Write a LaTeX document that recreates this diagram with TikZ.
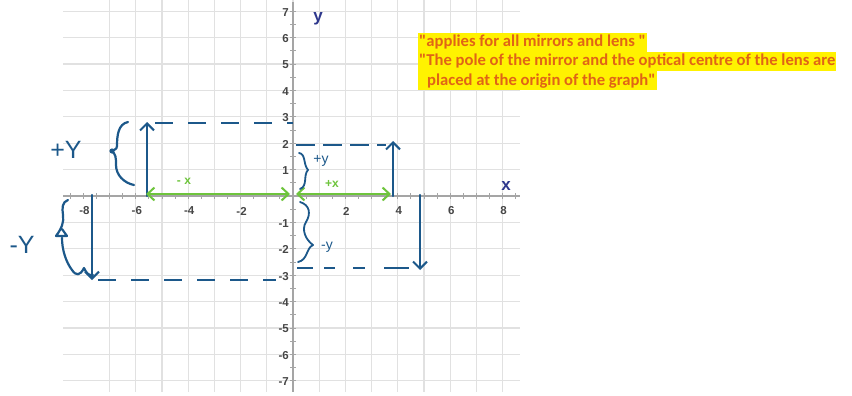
\documentclass[tikz,border=0pt]{standalone}
\usepackage{fontspec}
\usetikzlibrary{arrows.meta}
\newfontfamily\calib{Carlito}
\newfontfamily\lsans{Liberation Sans}
\definecolor{gridc}{RGB}{225,225,225}
\definecolor{axisc}{RGB}{165,165,165}
\definecolor{tickc}{RGB}{70,70,70}
\definecolor{hblue}{RGB}{28,88,138}
\definecolor{hgreen}{RGB}{110,196,60}
\definecolor{axlab}{RGB}{45,55,140}
\definecolor{note}{RGB}{224,100,22}
\tikzset{
  gridline/.style={draw=gridc,line width=1.3pt},
  axisline/.style={draw=axisc,line width=1.4pt},
  minortick/.style={draw=axisc,line width=0.9pt},
  ticklab/.style={font=\lsans\bfseries\fontsize{11.5}{11.5}\selectfont,text=tickc,inner sep=0pt},
  axislab/.style={font=\lsans\bfseries\fontsize{17}{17}\selectfont,text=axlab,inner sep=0pt},
  hand/.style={draw=hblue,line width=2.2pt,line cap=round,line join=round},
  handarrow/.style={hand,-{Straight Barb[length=7pt,width=14pt,line width=2pt]}},
  handdash/.style={draw=hblue,line width=2.8pt,dash pattern=on 18pt off 15pt},
  grarrow/.style={draw=hgreen,line width=2pt,{Straight Barb[length=7pt,width=13pt,line width=2pt]}-{Straight Barb[length=7pt,width=13pt,line width=2pt]}},
  grlab/.style={font=\lsans\bfseries\fontsize{12}{12}\selectfont,text=hgreen,inner sep=0pt},
  handlab/.style={font=\lsans\fontsize{25}{25}\selectfont,text=hblue,inner sep=0pt},
  handsmall/.style={font=\lsans\fontsize{14}{14}\selectfont,text=hblue,inner sep=0pt},
  notebox/.style={fill=yellow,anchor=west,inner xsep=1pt,inner ysep=1.5pt,text height=12pt,text depth=4pt,
    font=\calib\bfseries\fontsize{16.6}{19}\selectfont,text=note}
}
\begin{document}
\begin{tikzpicture}[x=1pt,y=-1pt]
\useasboundingbox (0,0) rectangle (852,396);
% grid
\foreach \i in {-7,...,8} \draw[gridline] ({293+26.2*\i},0) -- ({293+26.2*\i},392);
\foreach \j in {-7,...,7} \draw[gridline] (63,{196-26.4*\j}) -- (520,{196-26.4*\j});
% axes
\draw[axisline] (63,196) -- (520,196);
\draw[axisline] (293,2) -- (293,392);
\foreach \i in {-17,...,17} \draw[minortick] ({293+13.1*\i},193) -- ({293+13.1*\i},199);
\foreach \j in {-14,...,14} \draw[minortick] (290,{196-13.2*\j}) -- (296,{196-13.2*\j});
% tick labels
\foreach \i in {-8,-6,-4,-2,2,4,6,8} \node[ticklab] (tx\i) at ({294+26.2*\i},211) {\ifnum\i<0 -\the\numexpr-\i\relax\else\i\fi};
\foreach \j in {-7,...,-1,1,2,...,7} \node[ticklab,anchor=east] (ty\j) at (289,{197-26.4*\j}) {\ifnum\j<0 -\the\numexpr-\j\relax\else\j\fi};
\node[axislab] (ylab) at (318,19) {y};
\node[axislab] (xlab) at (506,186) {x};
% note
\node[notebox] (n1) at (418,43) {"applies for all mirrors and lens "};
\node[notebox] (n2) at (418,62) {"The pole of the mirror and the optical centre of the lens are};
\node[notebox] (n3) at (418,81) {\hspace{8pt}placed at the origin of the graph"};
% left: object above axis
\coordinate (a1s) at (147,196);
\coordinate (a1e) at (147,122);
\draw[handarrow] (a1s) -- (a1e);
\coordinate (d1s) at (155,123);
\coordinate (d1e) at (293,123);
\draw[handdash] (d1s) -- (d1e);
\coordinate (g1s) at (146,194);
\coordinate (g1e) at (290,194);
\draw[grarrow] (g1s) -- (g1e);
\node[grlab] (mx) at (184,181) {- x};
% +Y brace
\coordinate (b1t) at (128,122);
\coordinate (b1b) at (134,185);
\draw[hand] (b1t) .. controls (118,124) and (117,136) .. (117,146)
  .. controls (117,150) and (113,150) .. (111,151)
  .. controls (116,153) and (116,158) .. (116,165)
  .. controls (116,175) and (124,183) .. (b1b);
\fill[hblue] (112,151) circle (2.6pt);
\node[handlab] (py) at (66,150) {+Y};
% left: object below axis
\coordinate (a3s) at (92,195);
\coordinate (a3e) at (92,280);
\draw[handarrow] (a3s) -- (a3e);
\coordinate (d2s) at (98,280);
\coordinate (d2e) at (276,280);
\draw[handdash] (d2s) -- (d2e);
% -Y brace
\coordinate (b2t) at (68,200);
\coordinate (b2b) at (93,275);
\draw[hand] (b2t) .. controls (62,202) and (62,208) .. (63,215)
  .. controls (64,222) and (62,228) .. (56,236) -- (67,236) -- (62,229)
  (62,238) .. controls (62,250) and (66,262) .. (72,270)
  .. controls (76,276) and (80,276) .. (84,268)
  .. controls (86,272) and (88,276) .. (b2b);
\node[handlab] (my) at (22,245) {-Y};
% right: object above axis
\coordinate (a4s) at (393,196);
\coordinate (a4e) at (393,141);
\draw[handarrow] (a4s) -- (a4e);
\coordinate (d3s) at (296,145);
\coordinate (d3e) at (386,145);
\draw[handdash,dash pattern=on 19pt off 8pt] (d3s) -- (d3e);
\coordinate (g2s) at (296,194);
\coordinate (g2e) at (391,194);
\draw[grarrow] (g2s) -- (g2e);
\node[grlab] (px) at (332,184) {+x};
% +y small brace
\coordinate (b3t) at (299,153);
\coordinate (b3b) at (300,189);
\draw[hand,line width=1.8pt] (b3t) .. controls (306,154) and (303,164) .. (308,170)
  .. controls (303,175) and (308,186) .. (b3b);
\node[handsmall] (psy) at (321,161) {+y};
% right: object below axis
\coordinate (a6s) at (420,195);
\coordinate (a6e) at (420,270);
\draw[handarrow] (a6s) -- (a6e);
\coordinate (d4s) at (297,268);
\coordinate (d4e) at (409,268);
\draw[handdash,dash pattern=on 16pt off 11pt on 11pt off 18pt on 12pt off 19pt on 26pt off 30pt] (d4s) -- (d4e);
% -y small brace
\coordinate (b4t) at (300,202);
\coordinate (b4b) at (298,262);
\draw[hand,line width=1.8pt] (b4t) .. controls (310,205) and (311,214) .. (306,222)
  .. controls (301,230) and (306,240) .. (313,245)
  .. controls (306,248) and (308,260) .. (b4b);
\node[handsmall] (msy) at (327,247) {-y};
\end{tikzpicture}
\end{document}
